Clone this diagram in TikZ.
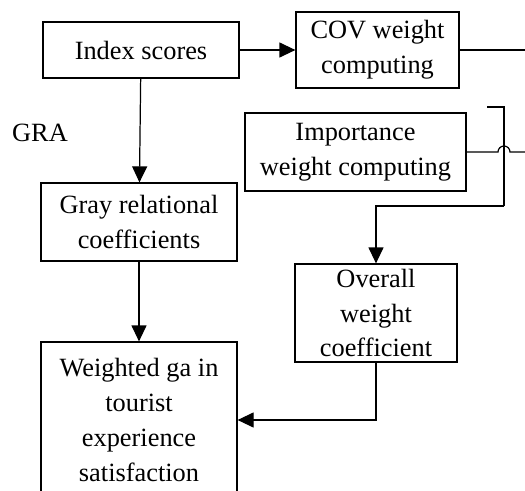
\documentclass[tikz,border=0pt]{standalone}
\usepackage{fontspec}
\setmainfont{Liberation Serif}
\usetikzlibrary{arrows.meta}
\tikzset{block/.style = {shape = rectangle, draw, line width = 0.7pt, align = center, inner sep = 1pt, font = \fontsize{15pt}{19.9pt}\selectfont}}
\tikzset{edge/.style = {-, line width = 0.7pt}}
\tikzset{link/.style = {-{Triangle[length = 0.32cm, width = 0.3cm]}, line width = 0.7pt}}

\begin{document}
\begin{tikzpicture}
				\clip (0, 0) rectangle (10.5, 9.8);
				\fill[white] (0, 0) rectangle (10.5, 9.8);

				\node[block, minimum width = 3.92cm, minimum height = 1.12cm] (idx) at (2.82, 8.8) {Index scores};
				\node[block, minimum width = 3.26cm, minimum height = 1.52cm] (cov) at (7.55, 8.8) {COV weight\\computing};
				\node[block, minimum width = 4.42cm, minimum height = 1.56cm] (imp) at (7.11, 6.76) {Importance\\weight computing};
				\node[block, minimum width = 3.92cm, minimum height = 1.56cm] (gray) at (2.78, 5.36) {Gray relational\\coefficients};
				\node[block, minimum width = 3.24cm, minimum height = 1.96cm] (ovr) at (7.52, 3.54) {Overall\\weight\\coefficient};
				\node[block, minimum width = 3.92cm, minimum height = 3.12cm] (wgt) at (2.78, 1.4) {Weighted ga in\\tourist\\experience\\satisfaction};
				\node[font = \fontsize{15pt}{19.9pt}\selectfont] (gra) at (0.8, 7.14) {GRA};

				\coordinate (jump) at (10.08, 6.76);
				\coordinate (impend) at (10.5, 6.76);
				\coordinate (covend) at (10.5, 8.8);
				\coordinate (tick) at (9.74, 7.66);
				\coordinate (top) at (10.08, 7.66);
				\coordinate (bend) at (10.08, 5.68);

				\draw[link] (idx) to (cov);
				\draw[edge] (cov) to (covend);
				\draw[link] (idx) to (gray);
				\draw[link] (gray) to (wgt);
				\draw[edge] (imp.east) -- ([xshift = -0.12cm]jump) arc[start angle = 180, end angle = 0, radius = 0.12] -- (impend);
				\draw[edge] (tick) -- (top) -- (bend);
				\draw[link] (bend) -| (ovr.north);
				\draw[link] (ovr.south) |- (wgt.east);
			\end{tikzpicture}
\end{document}
